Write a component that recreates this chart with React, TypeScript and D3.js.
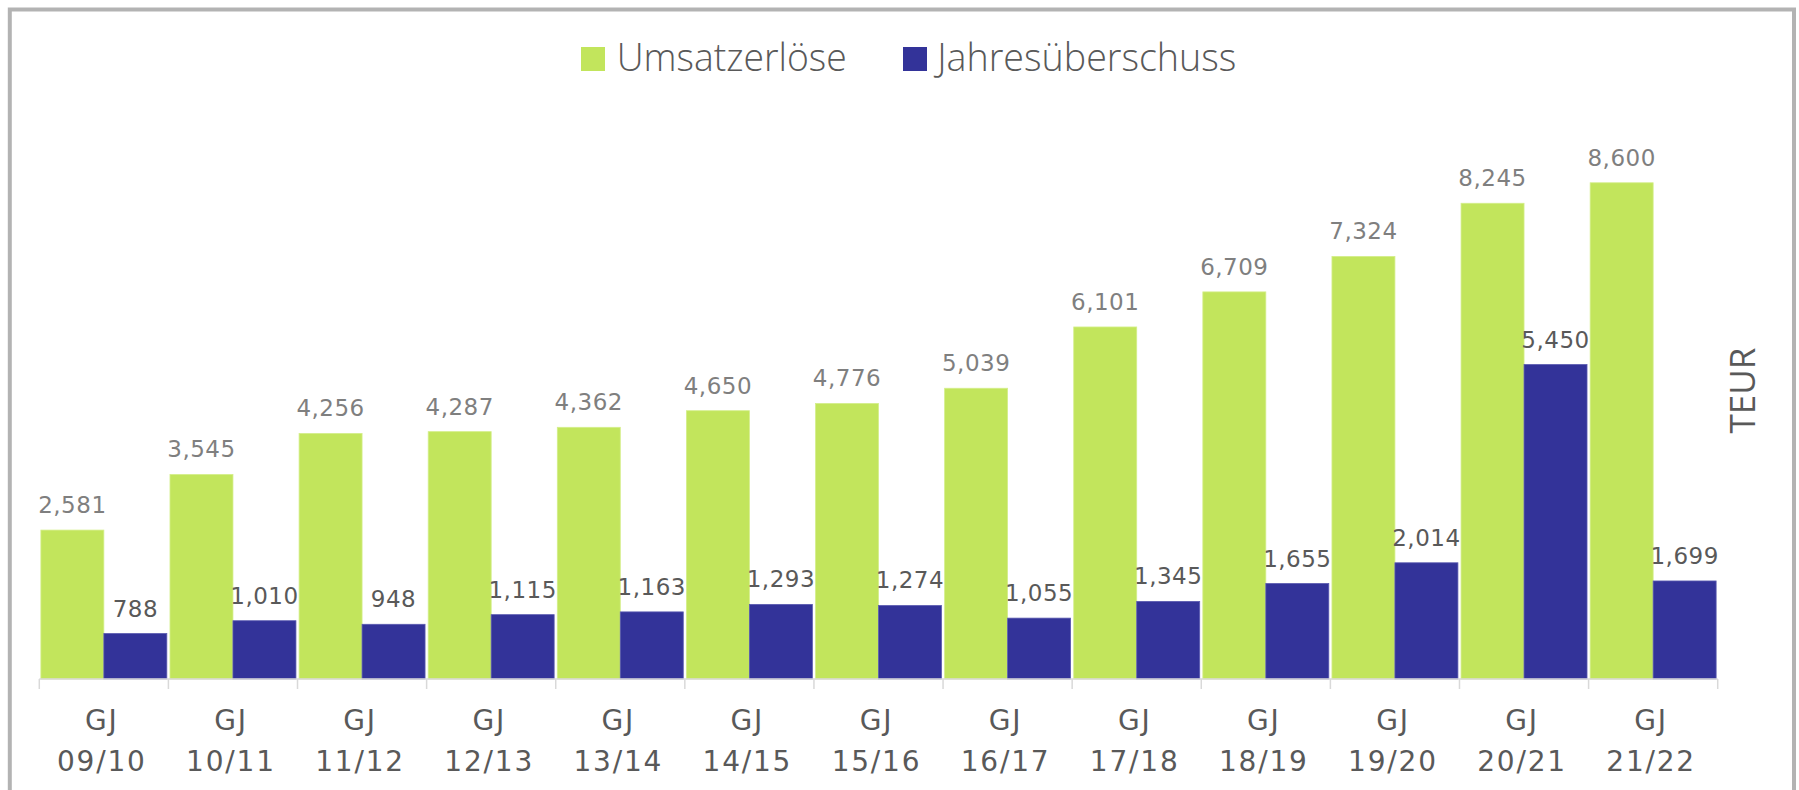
import React from "react";
import * as d3 from "d3";

const categories = ["GJ 09/10", "GJ 10/11", "GJ 11/12", "GJ 12/13", "GJ 13/14", "GJ 14/15", "GJ 15/16", "GJ 16/17", "GJ 17/18", "GJ 18/19", "GJ 19/20", "GJ 20/21", "GJ 21/22"];
const umsatz = [2581, 3545, 4256, 4287, 4362, 4650, 4776, 5039, 6101, 6709, 7324, 8245, 8600];
const jahres = [788, 1010, 948, 1115, 1163, 1293, 1274, 1055, 1345, 1655, 2014, 5450, 1699];
const seriesNames = ["Umsatzerlöse", "Jahresüberschuss"];
const seriesColors = ["#c2e55c", "#333399"];
const labelColors = ["#7f7f7f", "#595959"];

const W = 1799, H = 790;

export default function App() {
  const x = d3.scaleBand<string>().domain(categories).range([39.3, 1717.7]).paddingInner(0).paddingOuter(0);
  const inner = d3.scaleBand<number>().domain([0, 1]).range([0, x.bandwidth()]).paddingInner(0).paddingOuter(0.025);
  const y = d3.scaleLinear().domain([0, 10000]).range([679, 102]);
  const fmt = d3.format(",");
  const series = [umsatz, jahres];
  const font = "'DejaVu Sans', Verdana, sans-serif";
  const legendFont = "'Open Sans', sans-serif";

  return (
    <svg width={W} height={H} style={{ position: "absolute", left: 0, top: 0, background: "#fff" }}>
      <rect x={9.8} y={9.5} width={1784.2} height={1000} fill="#fff" stroke="#b3b3b3" strokeWidth={4} />
      {/* legend */}
      <g>
        <rect x={581} y={47} width={24} height={24} fill={seriesColors[0]} />
        <text x={616.7} y={71} fontFamily={legendFont} fontWeight={300} fontSize={38} fill="#595959" textLength={230} lengthAdjust="spacingAndGlyphs">{seriesNames[0]}</text>
        <rect x={903} y={47} width={24} height={24} fill={seriesColors[1]} />
        <text x={937.3} y={71} fontFamily={legendFont} fontWeight={300} fontSize={38} fill="#595959" textLength={299} lengthAdjust="spacingAndGlyphs">{seriesNames[1]}</text>
      </g>
      {/* bars */}
      {series.map((vals, si) => (
        <g key={si}>
          {vals.map((v, i) => {
            const bx = (x(categories[i]) ?? 0) + (inner(si) ?? 0);
            const bw = inner.bandwidth();
            return (
              <g key={i}>
                <rect x={bx} y={y(v)} width={bw} height={y(0) - y(v)} fill={seriesColors[si]} stroke={si === 0 ? "#d4ee8a" : "#5a5ab0"} strokeWidth={0.8} />
                <text x={bx + bw / 2} y={y(v) - 17} textAnchor="middle" fontFamily={font} fontSize={23} fill={labelColors[si]} letterSpacing={0.5}>{fmt(v)}</text>
              </g>
            );
          })}
        </g>
      ))}
      {/* axis */}
      <line x1={x.range()[0]} x2={x.range()[1]} y1={y(0)} y2={y(0)} stroke="#d9d9d9" strokeWidth={1.5} />
      {[...categories.map((c) => x(c) ?? 0), x.range()[1]].map((tx, i) => (
        <line key={i} x1={tx} x2={tx} y1={y(0)} y2={y(0) + 10} stroke="#d9d9d9" strokeWidth={1.5} />
      ))}
      {categories.map((c, i) => {
        const cx = (x(c) ?? 0) + x.bandwidth() / 2 - 2;
        const parts = c.split(" ");
        return (
          <text key={i} textAnchor="middle" fontFamily={font} fontSize={28} fill="#595959" letterSpacing={1.8}>
            <tspan x={cx} y={730}>{parts[0]}</tspan>
            <tspan x={cx} y={770.5}>{parts[1]}</tspan>
          </text>
        );
      })}
      {/* unit */}
      <text transform="translate(1755,390.5) rotate(-90)" textAnchor="middle" fontFamily={legendFont} fontSize={35} fill="#595959">TEUR</text>
    </svg>
  );
}
